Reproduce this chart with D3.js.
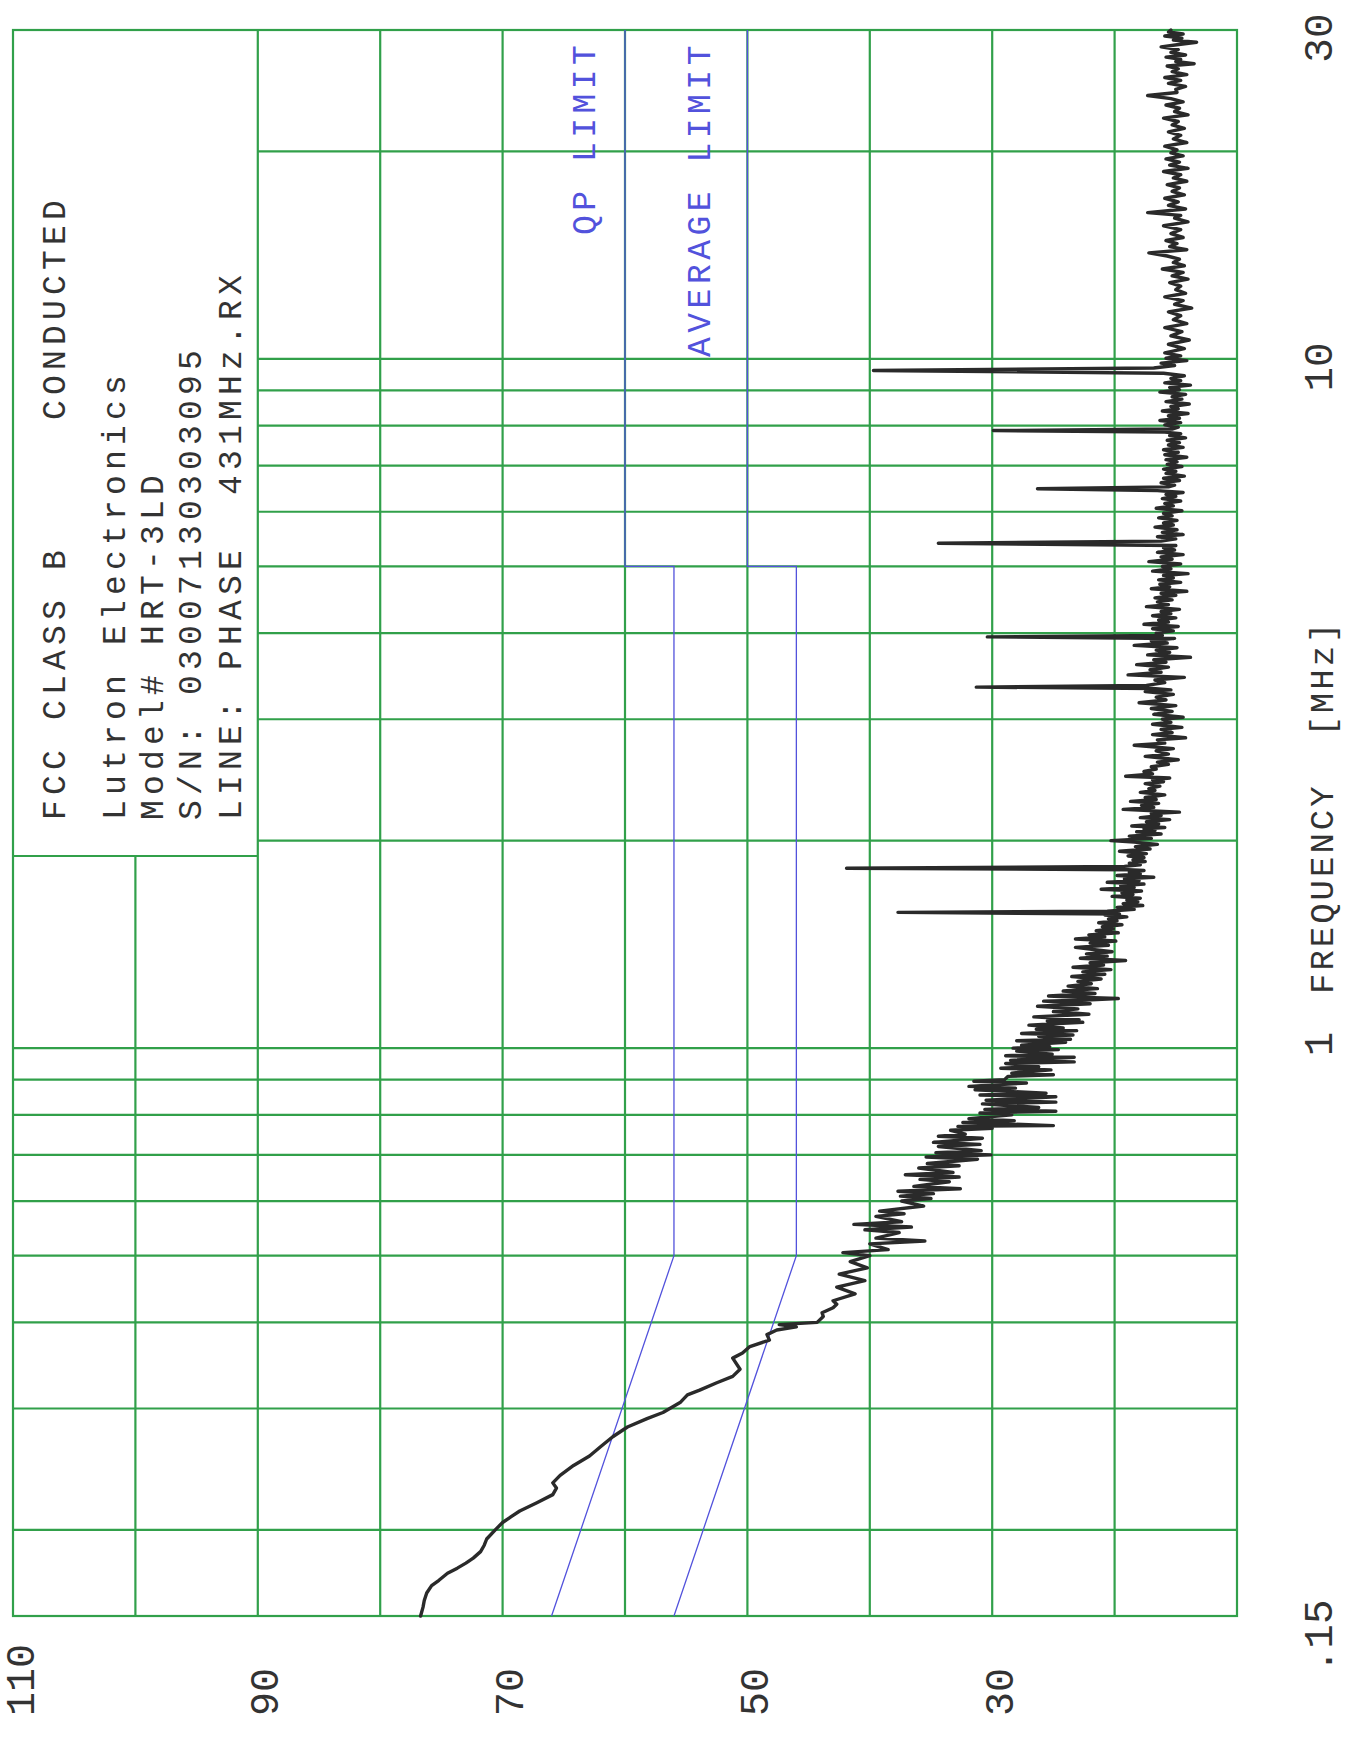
<!DOCTYPE html>
<html>
<head>
<meta charset="utf-8">
<script src="https://cdn.jsdelivr.net/npm/d3@7"></script>
<style>
  body { margin: 0; background: #fff; }
  text { font-family: "Liberation Mono", "DejaVu Sans Mono", monospace; }
</style>
</head>
<body>
<svg id="chart" width="1346" height="1747"></svg>
<script>
// ---------------- DATA ----------------
const freqDomain = [0.15, 30];            // MHz
const levelDomain = [110, 10];            // dBuV
const freqGridLines = [0.2,0.3,0.4,0.5,0.6,0.7,0.8,0.9,1,2,3,4,5,6,7,8,9,10,20];
const levelGridLines = [100,90,80,70,60,50,40,30,20];
const levelTickLabels = [110, 90, 70, 50, 30];
const freqTickValues = [0.15, 1, 10, 30];
const freqTickLabels = [".15", "1", "10", "30"];
const legendBoxMHz = 1.9;   // lower edge of the header box
const legendBoxDb = 90;     // inner edge of the header box

const headerLines = [
  "FCC CLASS B     CONDUCTED",
  "Lutron Electronics",
  "Model# HRT-3LD",
  "S/N: 03007130303095",
  "LINE: PHASE  431MHz.RX"
];
const limitNames = ["QP LIMIT", "AVERAGE LIMIT"];
const axisTitle = "FREQUENCY  [MHz]";

const qpLimit  = [[0.15,66],[0.5,56],[5,56],[5,60],[30,60]];
const avgLimit = [[0.15,56],[0.5,46],[5,46],[5,50],[30,50]];

const traceLow = [
 [0.150,76.7],[0.1545,76.5],[0.158,76.4],[0.162,76.2],[0.166,75.8],[0.169,75.2],[0.173,74.5],[0.176,73.7],
 [0.179,73.0],[0.182,72.4],[0.186,71.8],[0.190,71.5],[0.194,71.3],[0.200,70.6],[0.205,70.0],[0.209,69.3],
 [0.213,68.6],[0.219,67.2],[0.225,65.9],[0.230,65.6],[0.234,65.9],[0.240,65.3],[0.248,64.2],[0.256,62.9],
 [0.264,62.0],[0.273,61.0],[0.282,59.8],[0.290,58.2],[0.296,56.9],[0.306,55.5],[0.314,54.9],[0.319,53.9],
 [0.327,52.5],[0.334,51.2],[0.342,50.6],[0.355,51.2],[0.361,50.4],[0.369,49.8],[0.377,48.2],[0.384,48.4],
 [0.390,47.6],[0.394,46.0],[0.397,47.4],[0.400,44.3],[0.408,43.8],[0.413,43.9],[0.420,43.0],[0.425,42.7]
];
const traceMid = [
 [0.43,43.0],[0.44,41.2],[0.45,42.7],[0.46,40.4],[0.47,42.5],[0.48,40.2],[0.49,41.6],[0.50,40.0],
 [0.505,42.2],[0.51,38.5],[0.52,40.0],[0.525,35.5],[0.53,39.5],[0.54,37.6],[0.545,40.4],[0.55,36.6],
 [0.555,41.3],[0.56,37.4],[0.57,39.5],[0.575,37.2],[0.58,39.2],[0.59,35.6],[0.60,37.4],[0.605,35.0],
 [0.61,37.5],[0.615,34.8],[0.62,37.7],[0.625,32.6],[0.63,36.4],[0.64,33.5],[0.645,35.9],[0.65,32.7],
 [0.655,37.1],[0.66,33.2],[0.67,36.0],[0.675,32.7],[0.68,35.3],[0.69,31.2],[0.695,35.4],[0.70,30.1],
 [0.705,34.6],[0.71,30.9],[0.72,34.4],[0.725,31.0],[0.73,34.8],[0.74,30.8],[0.745,34.4],[0.75,32.2],
 [0.76,33.4],[0.765,30.0],[0.77,32.8],[0.772,25.0],[0.78,32.4],[0.785,28.2],[0.79,31.9],[0.80,28.4],
 [0.805,31.0],[0.81,24.8],[0.815,30.6],[0.82,26.2],[0.83,30.8],[0.835,24.8],[0.84,30.5],[0.85,24.8],
 [0.855,31.0],[0.86,25.6],[0.87,31.4],[0.875,28.1],[0.88,31.9],[0.89,27.2],[0.895,31.5],[0.90,29.0],
 [0.91,28.7],[0.915,25.0],[0.92,28.4],[0.93,25.2],[0.935,29.3],[0.94,26.2],[0.95,28.9],[0.955,23.3],
 [0.96,28.5],[0.97,23.3],[0.975,28.9],[0.98,25.1],[0.99,28.0],[0.995,24.6],[1.00,28.3]
];
const traceOneToThree = [
 [1.005,25.3],[1.01,27.6],[1.02,24.0],[1.025,28.0],[1.03,23.6],[1.04,26.2],[1.045,23.4],[1.05,27.6],
 [1.06,23.1],[1.065,26.4],[1.07,24.2],[1.08,27.0],[1.09,22.6],[1.095,25.5],[1.10,22.9],[1.11,26.6],
 [1.12,22.1],[1.13,25.0],[1.14,23.0],[1.15,26.3],[1.16,22.0],[1.17,25.8],[1.175,21.9],[1.18,19.7],
 [1.185,23.0],[1.19,25.4],[1.20,21.6],[1.21,24.2],[1.22,21.4],[1.23,23.8],[1.24,21.9],[1.25,23.0],
 [1.26,21.1],[1.27,23.5],[1.28,20.8],[1.29,22.6],[1.30,20.3],[1.31,23.4],[1.32,20.9],[1.33,22.0],
 [1.34,19.1],[1.35,22.8],[1.36,20.6],[1.37,22.3],[1.38,20.2],[1.40,23.2],[1.41,20.5],[1.42,22.0],
 [1.43,19.9],[1.44,23.2],[1.45,20.8],[1.46,22.1],[1.47,19.7],[1.48,21.5],[1.49,20.1],[1.50,21.0],
 [1.51,19.4],[1.52,21.3],[1.53,19.8],[1.54,20.5],[1.55,19.0],[1.56,20.8],[1.565,19.6],
 [1.58,20.6],[1.59,18.4],[1.60,19.8],[1.61,17.7],[1.62,19.3],[1.63,18.1],[1.64,19.0],[1.65,17.9],
 [1.66,20.2],[1.67,18.5],[1.68,19.4],[1.69,17.8],[1.70,21.1],[1.71,18.4],[1.72,19.5],[1.73,17.6],
 [1.74,20.6],[1.75,18.0],[1.76,19.2],[1.77,16.8],[1.78,19.8],[1.79,17.9],[1.80,18.8],[1.81,17.6],[1.815,18.9],
 [1.835,19.2],[1.845,17.9],[1.855,18.8],[1.865,17.5],[1.875,18.5],[1.89,17.6],[1.90,18.9],[1.915,17.4],
 [1.93,19.6],[1.945,17.1],[1.96,18.3],[1.975,16.5],[1.99,18.4],[2.00,20.3],[2.015,17.0],[2.03,18.8],
 [2.045,16.2],[2.06,18.2],[2.07,16.7],[2.08,17.6],[2.09,15.9],[2.10,18.6],[2.115,16.4],[2.13,17.4],
 [2.145,15.5],[2.16,17.9],[2.175,16.2],[2.19,17.0],[2.20,14.7],[2.22,19.3],[2.235,16.8],[2.25,17.8],
 [2.265,16.4],[2.28,18.7],[2.295,16.6],[2.31,17.5],[2.33,15.9],[2.35,17.9],[2.365,16.7],[2.38,17.2],
 [2.40,16.3],[2.42,17.5],[2.435,16.0],[2.45,16.9],[2.465,15.5],[2.48,19.1],[2.50,16.9],[2.52,17.6],
 [2.54,16.6],[2.56,17.0],[2.58,15.6],[2.60,16.5],[2.62,14.8],[2.65,17.5],[2.67,15.6],[2.70,16.6],
 [2.72,15.2],[2.75,18.4],[2.77,15.9],[2.80,16.5],[2.82,14.2],[2.85,16.9],[2.87,15.3],[2.90,16.2],
 [2.92,14.5],[2.95,16.9],[2.97,15.4],[3.00,16.1],[3.02,14.4]
];
const traceThreeToTen = [
 [3.05,16.8],[3.08,15.3],[3.11,17.0],[3.14,15.0],[3.17,18.0],[3.20,15.8],[3.23,16.6],[3.26,15.2],
 [3.29,17.5],[3.31,15.4],[3.325,16.9],
 [3.36,17.4],[3.39,15.9],[3.42,16.7],[3.45,14.3],[3.48,18.9],[3.51,16.2],[3.54,17.1],[3.57,15.6],
 [3.60,18.2],[3.63,15.8],[3.66,16.8],[3.69,13.8],[3.72,17.3],[3.75,15.5],[3.78,16.6],[3.81,14.9],
 [3.84,18.4],[3.87,15.7],[3.90,17.0],[3.93,15.1],
 [3.97,16.1],[4.00,16.6],[4.03,15.2],[4.06,16.9],[4.09,14.8],[4.12,17.6],[4.15,15.6],[4.18,16.4],
 [4.21,15.0],[4.24,16.9],[4.27,15.4],[4.30,16.2],[4.33,14.7],[4.37,17.4],[4.40,15.6],[4.44,16.5],
 [4.47,15.3],[4.50,16.7],[4.54,15.0],[4.57,16.2],[4.60,14.1],[4.64,17.0],[4.67,15.5],[4.71,16.3],
 [4.74,14.6],[4.78,16.4],[4.81,15.2],[4.85,16.0],[4.88,14.0],[4.92,16.9],[4.96,15.4],[5.00,16.1],
 [5.04,14.6],[5.08,17.2],[5.12,15.3],[5.16,16.2],[5.20,14.4],[5.24,16.5],[5.28,15.1],[5.32,16.0],[5.36,15.0],
 [5.44,16.2],[5.48,15.0],[5.52,16.5],[5.56,14.4],[5.60,16.1],[5.65,14.9],[5.70,16.7],[5.74,15.2],
 [5.78,16.0],[5.83,14.9],[5.88,16.4],[5.92,15.3],[5.97,16.0],[6.02,14.5],[6.07,16.6],[6.12,15.2],
 [6.17,15.9],[6.22,14.6],[6.27,16.1],[6.32,15.0],[6.36,15.8],[6.40,14.4],[6.44,16.5],
 [6.52,15.6],[6.56,15.1],[6.61,16.2],[6.66,14.7],[6.71,16.0],[6.76,14.3],[6.82,15.8],[6.87,15.0],
 [6.92,16.0],[6.98,14.5],[7.03,15.7],[7.09,14.9],[7.14,15.8],[7.20,14.1],[7.26,15.9],[7.32,14.8],
 [7.38,16.0],[7.44,14.4],[7.50,15.6],[7.56,14.7],[7.62,15.7],[7.68,14.2],[7.74,15.5],[7.79,14.6],[7.83,15.9],
 [7.91,15.3],[7.96,14.8],[8.02,15.9],[8.08,14.6],[8.14,16.3],[8.20,14.7],[8.27,15.6],[8.33,14.0],
 [8.40,16.1],[8.46,14.8],[8.53,15.4],[8.60,13.9],[8.67,15.8],[8.74,14.5],[8.81,15.3],[8.88,14.2],
 [8.95,16.3],[9.02,14.7],[9.09,15.5],[9.16,13.8],[9.23,15.9],[9.30,14.6],[9.37,15.4],[9.45,14.3],[9.53,16.0],
 [9.70,16.8],[9.78,15.1],[9.86,16.2],[9.94,14.1],[10.02,15.8]
];
const traceTenToThirty = [
 [10.1,14.6],[10.2,15.9],[10.35,14.3],[10.5,15.6],[10.65,13.9],[10.8,15.4],[10.95,14.5],[11.1,15.9],
 [11.25,14.1],[11.4,15.2],[11.55,14.6],[11.7,15.6],[11.85,13.7],[12.0,15.1],[12.15,14.4],[12.3,15.9],
 [12.45,14.2],[12.6,15.0],[12.75,14.6],[12.9,15.5],[13.05,14.0],[13.2,15.3],[13.35,14.4],[13.5,16.1],
 [13.65,14.3],[13.8,15.2],[13.95,14.7],[14.1,15.7],[14.25,17.2],[14.4,14.1],[14.55,15.5],[14.7,14.9],
 [14.85,15.8],[15.0,14.4],[15.2,15.4],[15.4,14.6],[15.6,16.0],[15.8,14.0],[16.0,15.1],[16.15,14.6],
 [16.3,17.3],[16.5,14.2],[16.7,15.6],[16.9,14.8],[17.1,15.9],[17.3,14.3],[17.5,15.3],[17.7,14.7],
 [17.9,15.7],[18.1,14.1],[18.3,15.2],[18.5,14.6],[18.7,16.0],[18.9,14.0],[19.1,15.5],[19.3,14.7],
 [19.5,15.8],[19.7,14.4],[19.9,15.4],[20.1,14.9],[20.35,15.9],[20.6,14.1],[20.85,15.2],[21.1,14.6],
 [21.35,15.6],[21.6,14.3],[21.85,15.3],[22.1,14.8],[22.35,16.0],[22.6,14.0],[22.85,15.1],[23.1,14.7],
 [23.35,15.8],[23.6,14.4],[23.85,15.4],[24.1,17.3],[24.35,14.9],[24.6,15.0],[24.85,14.2],[25.1,15.6],
 [25.35,14.6],[25.6,15.9],[25.85,14.1],[26.1,15.3],[26.35,14.8],[26.6,15.7],[26.8,13.5],[27.0,15.0],
 [27.2,14.6],[27.4,15.8],[27.6,14.2],[27.85,15.4],[28.1,14.8],[28.35,16.2],[28.6,14.6],[28.8,13.3],
 [29.0,15.2],[29.2,14.5],[29.4,15.9],[29.6,14.4],[29.8,15.6],[30.0,15.4]
];
// narrow emission peaks
const spikePeaks = [
 [1.574,37.7],[1.824,41.9],[3.34,31.3],[3.95,30.4],[5.40,34.4],[6.48,26.3],[7.87,29.9],[9.62,39.7]
];

// ---------------- DRAW ----------------
const svg = d3.select("#chart");
svg.append("rect").attr("width", 1346).attr("height", 1747).attr("fill", "#fff");

const W = 1586, H = 1224;           // unrotated plot size
const g = svg.append("g").attr("transform", "translate(13,1616) rotate(-90)");

const x = d3.scaleLog().domain(freqDomain).range([0, W]);
const y = d3.scaleLinear().domain(levelDomain).range([0, H]);

const GREEN = "#31a04a", BLUE = "#5252dc", INK = "#333";

// grid
const grid = g.append("g").attr("stroke", GREEN).attr("stroke-width", 2.2).attr("fill", "none");
grid.selectAll("line.f").data(freqGridLines).join("line").attr("class", "f")
  .attr("x1", d => x(d)).attr("x2", d => x(d))
  .attr("y1", d => d > legendBoxMHz ? y(legendBoxDb) : 0).attr("y2", H);
grid.selectAll("line.l").data(levelGridLines).join("line").attr("class", "l")
  .attr("y1", d => y(d)).attr("y2", d => y(d))
  .attr("x1", 0).attr("x2", d => d > legendBoxDb ? x(legendBoxMHz) : W);
grid.append("rect").attr("x", 0).attr("y", 0).attr("width", W).attr("height", H);
grid.append("line")
  .attr("x1", x(legendBoxMHz)).attr("x2", x(legendBoxMHz))
  .attr("y1", 0).attr("y2", y(legendBoxDb));

// limits
const line = d3.line().x(d => x(d[0])).y(d => y(d[1]));
g.selectAll("path.limit").data([qpLimit, avgLimit]).join("path").attr("class", "limit")
  .attr("d", line).attr("fill", "none").attr("stroke", BLUE).attr("stroke-width", 1.3);

// trace
const trace = traceLow.concat(traceMid, traceOneToThree, traceThreeToTen, traceTenToThirty, spikePeaks)
  .sort((a, b) => a[0] - b[0]);
g.append("path").datum(trace).attr("d", line)
  .attr("fill", "none").attr("stroke", "#2a2a2a").attr("stroke-width", 3.4)
  .attr("stroke-linejoin", "round").attr("stroke-linecap", "round");

// header text
const headerBase = [52, 112, 150, 188, 228];
g.selectAll("text.hdr").data(headerLines).join("text").attr("class", "hdr")
  .attr("x", x(legendBoxMHz) + 36).attr("y", (d, i) => headerBase[i])
  .attr("font-size", 33).attr("letter-spacing", 5.2).attr("fill", INK)
  .style("white-space", "pre")
  .text(d => d);

// limit labels
g.selectAll("text.lim").data(limitNames).join("text").attr("class", "lim")
  .attr("x", (d, i) => [1381, 1259][i]).attr("y", (d, i) => [582, 697][i])
  .attr("font-size", 33).attr("letter-spacing", 4.5).attr("fill", BLUE)
  .text(d => d);

// level axis (labels only)
const yAxis = g.append("g").call(d3.axisLeft(y).tickValues(levelTickLabels).tickSize(0).tickFormat(d3.format("d")));
yAxis.select(".domain").remove();
yAxis.selectAll("text")
  .attr("x", -100).attr("dy", 20).attr("text-anchor", "start")
  .attr("font-size", 40).attr("fill", INK).style("font-family", '"Liberation Mono", monospace');

// frequency axis (labels only)
const xAxis = g.append("g").attr("transform", `translate(0,${H})`)
  .call(d3.axisBottom(x).tickValues(freqTickValues).tickSize(0)
        .tickFormat((d, i) => freqTickLabels[i]));
xAxis.select(".domain").remove();
xAxis.selectAll("text")
  .attr("x", 16).attr("y", 95).attr("dy", 0).attr("text-anchor", "end")
  .attr("font-size", 41).attr("fill", INK).style("font-family", '"Liberation Mono", monospace');

// axis title
g.append("text").attr("x", 622).attr("y", H + 96)
  .attr("font-size", 34).attr("letter-spacing", 3).attr("fill", INK)
  .style("white-space", "pre").text(axisTitle);
</script>
</body>
</html>
